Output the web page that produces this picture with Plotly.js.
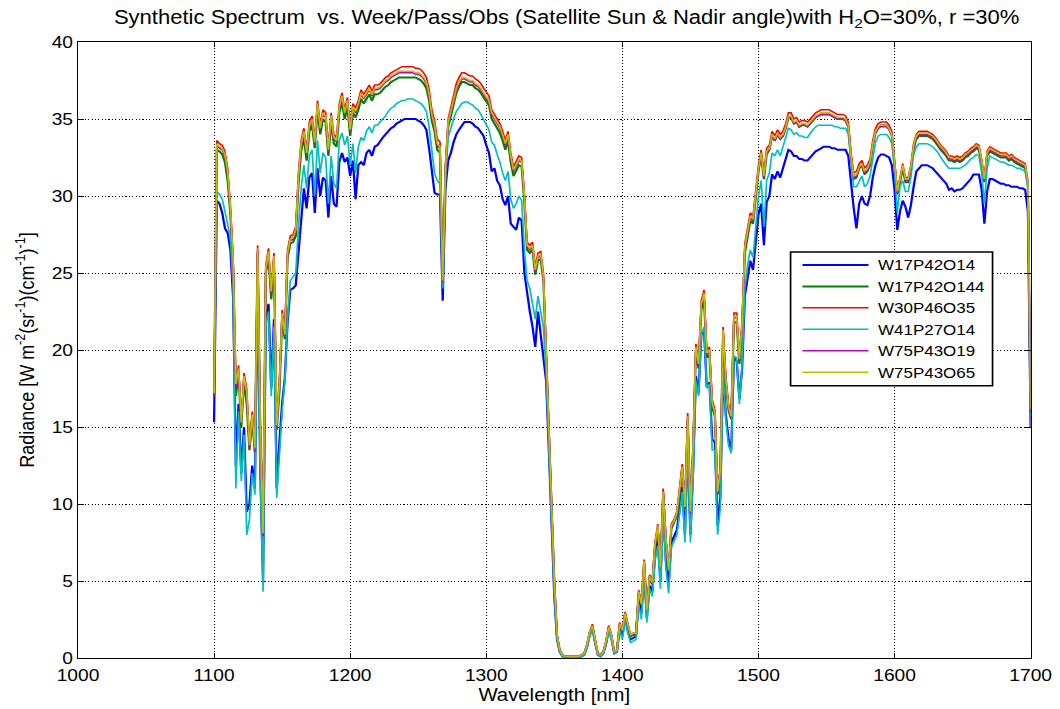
<!DOCTYPE html>
<html>
<head>
<meta charset="utf-8">
<script src="https://cdn.plot.ly/plotly-3.0.1.min.js"></script>
<style>
  html, body { margin: 0; padding: 0; background: #fff; overflow: hidden; }
  /* the figure is laid out at 4:3-style proportions and widened to the 1060 px frame */
  #chart { width: 938px; height: 709px; transform: scaleX(1.1301); transform-origin: 0 0; }
</style>
</head>
<body>
<div id="chart"></div>
<script>
// Wavelength grid of the synthetic spectra: 1100 to 1700 nm, 2 nm spacing
const wlStart = 1100, wlStep = 2, wlEnd = 1700;
const wavelength = [];
for (let w = wlStart; w <= wlEnd; w += wlStep) wavelength.push(w);

// Radiance [W m^-2 sr^-1 (cm^-1)^-1] per observation, one row per 20 nm
const W17P42O14 = [
  15.3, 29.7, 29.5, 28.9, 27.9, 27.6, 26.5, 23.4, 12.5, 16.5,
  12.0, 15.0, 9.5, 10.0, 12.5, 11.0, 24.5, 12.0, 5.0, 22.0,
  23.0, 17.5, 22.0, 11.0, 14.0, 16.5, 18.2, 21.8, 23.9, 24.0,
  24.2, 26.5, 28.8, 30.5, 29.2, 31.2, 31.5, 28.9, 31.8, 30.0,
  31.2, 31.0, 28.6, 31.3, 29.5, 29.3, 32.2, 32.8, 32.2, 32.5,
  31.3, 32.3, 29.8, 32.0, 32.2, 32.0, 32.8, 33.0, 32.6, 33.2,
  33.3, 33.6, 33.8, 34.0, 34.2, 34.4, 34.5, 34.7, 34.8, 34.9,
  35.0, 35.0, 35.0, 35.0, 35.0, 34.9, 34.8, 34.6, 34.3, 33.1,
  31.6, 30.2, 30.1, 30.1, 23.2, 30.5, 32.3, 32.8, 33.5, 34.0,
  34.3, 34.6, 34.8, 34.8, 34.8, 34.7, 34.5, 34.4, 34.1, 33.9,
  33.3, 32.8, 31.6, 31.8, 31.0, 30.7, 29.8, 29.4, 30.0, 28.2,
  28.0, 27.8, 28.6, 28.4, 25.0, 23.7, 22.5, 21.5, 20.2, 22.5,
  21.0, 19.6, 18.0, 13.5, 8.3, 4.0, 1.2, 0.4, 0.1, 0.05,
  0.05, 0.05, 0.05, 0.05, 0.05, 0.1, 0.2, 0.7, 1.5, 1.9,
  0.9, 0.2, 0.1, 0.3, 0.9, 1.8, 1.3, 0.3, 0.4, 1.9,
  1.4, 2.6, 1.8, 1.2, 1.3, 1.4, 3.8, 2.9, 5.6, 2.6,
  4.7, 4.3, 6.6, 7.6, 5.0, 9.6, 6.3, 4.8, 7.5, 7.9,
  8.3, 9.6, 11.1, 8.0, 13.9, 8.0, 12.2, 18.3, 17.2, 21.0,
  21.3, 17.6, 17.9, 14.2, 14.0, 8.6, 10.5, 18.6, 15.8, 14.2,
  13.5, 19.5, 19.3, 16.8, 18.8, 23.5, 24.8, 25.8, 25.2, 27.0,
  28.8, 29.5, 26.8, 29.6, 30.0, 31.4, 31.1, 31.6, 31.2, 31.8,
  32.4, 33.0, 32.9, 32.6, 32.6, 32.4, 32.4, 32.3, 32.3, 32.5,
  32.7, 32.9, 33.0, 33.1, 33.2, 33.2, 33.2, 33.1, 33.1, 33.0,
  33.0, 33.0, 33.0, 32.6, 30.8, 29.2, 27.9, 29.5, 30.0, 29.5,
  29.4, 30.0, 31.2, 32.0, 32.5, 32.7, 32.7, 32.6, 32.5, 32.0,
  30.4, 27.8, 29.0, 29.7, 29.3, 28.6, 29.4, 30.6, 31.6, 31.8,
  32.0, 32.0, 32.0, 31.9, 31.8, 31.6, 31.4, 31.2, 31.0, 30.8,
  30.4, 30.5, 30.3, 30.4, 30.4, 30.5, 30.7, 30.9, 31.1, 31.4,
  31.4, 31.4, 30.4, 28.2, 30.3, 31.1, 31.1, 31.0, 30.9, 30.8,
  30.8, 30.7, 30.7, 30.6, 30.6, 30.6, 30.5, 30.5, 30.4, 29.0,
  15.0
];

const W17P42O144 = [
  17.0, 33.0, 32.9, 32.7, 32.2, 31.0, 28.8, 25.3, 17.0, 18.5,
  15.0, 18.0, 16.5, 13.5, 15.5, 13.3, 26.3, 14.5, 7.8, 25.0,
  26.0, 23.3, 25.7, 14.8, 17.3, 22.0, 20.7, 26.0, 26.9, 27.0,
  27.4, 30.8, 32.9, 33.8, 32.3, 34.2, 34.6, 33.1, 35.6, 34.0,
  35.0, 34.8, 32.6, 34.8, 33.4, 33.2, 35.4, 36.1, 35.0, 35.8,
  33.9, 35.4, 35.1, 35.6, 36.3, 36.0, 36.3, 36.6, 36.2, 36.6,
  36.6, 36.7, 36.9, 37.1, 37.2, 37.4, 37.5, 37.6, 37.7, 37.7,
  37.7, 37.7, 37.7, 37.7, 37.7, 37.6, 37.5, 37.3, 37.0, 36.2,
  34.9, 34.2, 33.0, 32.8, 24.4, 31.6, 34.5, 35.2, 35.9, 36.7,
  37.1, 37.4, 37.4, 37.3, 37.2, 37.2, 37.0, 36.9, 36.7, 36.4,
  36.1, 35.9, 35.0, 34.7, 34.4, 34.1, 33.6, 33.0, 33.6, 32.2,
  31.3, 31.7, 32.0, 31.9, 29.6, 26.5, 26.3, 26.5, 24.9, 25.8,
  25.9, 24.5, 19.6, 15.1, 9.3, 4.9, 1.4, 0.5, 0.2, 0.1,
  0.1, 0.1, 0.1, 0.1, 0.1, 0.2, 0.3, 0.8, 1.6, 2.1,
  1.0, 0.3, 0.2, 0.4, 1.0, 2.0, 1.4, 0.4, 0.5, 2.2,
  1.7, 2.9, 2.1, 1.4, 1.5, 1.5, 4.2, 3.4, 6.2, 3.0,
  5.2, 4.8, 7.3, 8.4, 5.8, 10.7, 7.5, 5.6, 8.4, 8.8,
  9.2, 10.6, 12.3, 9.6, 15.5, 9.3, 13.5, 19.9, 18.8, 22.6,
  23.3, 19.5, 19.7, 16.3, 15.7, 10.6, 12.1, 21.0, 17.8, 16.1,
  15.5, 21.8, 21.8, 19.1, 21.4, 26.3, 27.5, 28.4, 28.2, 29.8,
  31.6, 32.7, 31.1, 32.7, 33.0, 33.9, 33.6, 34.0, 33.7, 33.9,
  34.4, 35.1, 35.1, 34.7, 34.8, 34.5, 34.6, 34.6, 34.5, 34.7,
  34.9, 35.1, 35.2, 35.3, 35.3, 35.3, 35.3, 35.2, 35.1, 35.0,
  35.0, 35.0, 34.9, 34.5, 32.5, 31.1, 31.2, 31.8, 32.0, 31.4,
  31.6, 32.0, 33.3, 34.1, 34.4, 34.6, 34.6, 34.6, 34.4, 34.0,
  32.0, 30.1, 30.9, 31.8, 30.9, 30.9, 31.7, 33.1, 33.7, 33.9,
  33.9, 33.9, 33.9, 33.8, 33.7, 33.5, 33.2, 33.0, 32.8, 32.6,
  32.3, 32.3, 32.2, 32.3, 32.2, 32.3, 32.5, 32.6, 32.8, 32.9,
  33.1, 33.0, 32.1, 30.9, 32.6, 32.9, 32.8, 32.7, 32.6, 32.5,
  32.5, 32.5, 32.3, 32.4, 32.2, 32.1, 32.0, 31.9, 31.8, 30.7,
  15.9
];

const W30P46O35 = [
  17.0, 33.6, 33.4, 33.3, 32.9, 31.8, 29.4, 26.0, 18.0, 19.0,
  15.5, 18.5, 17.5, 14.0, 16.0, 13.8, 26.8, 15.0, 8.3, 25.5,
  26.6, 24.0, 26.3, 15.3, 18.0, 22.6, 21.2, 26.5, 27.4, 27.5,
  28.0, 31.5, 33.6, 34.4, 33.0, 34.8, 35.2, 33.7, 36.2, 34.6,
  35.6, 35.4, 33.2, 35.4, 34.0, 33.8, 36.0, 36.7, 35.6, 36.4,
  34.5, 36.0, 35.7, 36.2, 36.9, 36.6, 36.9, 37.2, 36.8, 37.2,
  37.2, 37.3, 37.5, 37.7, 37.8, 38.0, 38.1, 38.2, 38.3, 38.4,
  38.4, 38.4, 38.4, 38.4, 38.3, 38.3, 38.2, 38.0, 37.7, 36.9,
  35.6, 34.9, 33.7, 33.5, 24.5, 32.0, 35.0, 35.7, 36.5, 37.3,
  37.7, 38.0, 38.0, 37.9, 37.8, 37.8, 37.6, 37.5, 37.3, 37.0,
  36.7, 36.5, 35.6, 35.3, 35.0, 34.7, 34.2, 33.6, 34.2, 32.8,
  31.9, 32.3, 32.6, 32.5, 30.2, 27.0, 26.8, 27.0, 25.4, 26.3,
  26.4, 25.0, 20.0, 15.4, 9.5, 5.0, 1.5, 0.5, 0.2, 0.1,
  0.1, 0.1, 0.1, 0.1, 0.1, 0.2, 0.3, 0.9, 1.7, 2.2,
  1.1, 0.3, 0.2, 0.4, 1.1, 2.1, 1.5, 0.4, 0.5, 2.3,
  1.8, 3.0, 2.2, 1.5, 1.6, 1.6, 4.4, 3.6, 6.4, 3.2,
  5.4, 5.0, 7.5, 8.7, 6.0, 11.0, 7.8, 5.8, 8.7, 9.0,
  9.5, 10.9, 12.6, 9.9, 15.9, 9.6, 13.9, 20.4, 19.3, 23.2,
  23.9, 20.0, 20.2, 16.8, 16.1, 10.9, 12.4, 21.5, 18.3, 16.5,
  15.9, 22.4, 22.4, 19.6, 21.9, 26.9, 28.0, 28.9, 28.7, 30.2,
  32.0, 33.0, 31.5, 33.1, 33.3, 34.2, 33.9, 34.3, 34.0, 34.2,
  34.7, 35.4, 35.4, 35.0, 35.1, 34.8, 34.9, 34.9, 34.8, 35.0,
  35.2, 35.4, 35.5, 35.6, 35.6, 35.6, 35.6, 35.5, 35.4, 35.3,
  35.3, 35.3, 35.2, 34.8, 32.8, 31.5, 31.6, 32.1, 32.3, 31.8,
  32.0, 32.4, 33.6, 34.4, 34.7, 34.8, 34.8, 34.8, 34.6, 34.2,
  32.3, 30.4, 31.2, 32.1, 31.2, 31.2, 32.0, 33.4, 34.0, 34.2,
  34.2, 34.2, 34.2, 34.1, 34.0, 33.8, 33.5, 33.3, 33.1, 32.9,
  32.6, 32.6, 32.5, 32.6, 32.5, 32.6, 32.8, 32.9, 33.1, 33.2,
  33.4, 33.3, 32.4, 31.2, 32.9, 33.2, 33.1, 33.0, 32.9, 32.8,
  32.8, 32.8, 32.6, 32.7, 32.5, 32.4, 32.3, 32.2, 32.1, 31.0,
  16.0
];

const W41P27O14 = [
  17.8, 30.3, 30.1, 29.8, 29.0, 28.0, 27.3, 24.0, 11.0, 16.0,
  11.5, 14.5, 8.0, 9.0, 12.0, 10.6, 24.0, 11.5, 4.3, 21.5,
  22.5, 17.0, 21.5, 10.4, 13.5, 16.0, 18.0, 22.0, 24.5, 24.8,
  25.0, 28.0, 30.5, 32.0, 30.5, 32.6, 33.0, 30.0, 33.6, 31.5,
  32.8, 32.5, 29.5, 32.6, 30.8, 30.5, 33.6, 34.1, 33.3, 33.9,
  32.0, 33.4, 31.5, 33.2, 33.8, 33.6, 34.2, 34.5, 34.1, 34.6,
  34.6, 34.8, 35.0, 35.2, 35.5, 35.7, 35.8, 36.0, 36.1, 36.2,
  36.2, 36.3, 36.3, 36.3, 36.2, 36.1, 36.0, 35.8, 35.5, 34.5,
  33.0, 31.5, 31.0, 30.8, 24.0, 31.0, 33.8, 34.5, 35.0, 35.5,
  35.8, 36.0, 36.1, 36.1, 36.0, 35.9, 35.7, 35.6, 35.3, 35.0,
  34.7, 34.3, 33.5, 33.3, 32.7, 32.2, 31.5, 31.0, 31.6, 29.8,
  29.2, 29.5, 30.0, 29.7, 26.5, 24.5, 24.0, 23.0, 22.0, 23.5,
  22.5, 21.5, 18.5, 14.0, 8.5, 4.2, 1.2, 0.4, 0.1, 0.05,
  0.05, 0.05, 0.05, 0.05, 0.05, 0.1, 0.2, 0.7, 1.4, 1.8,
  0.9, 0.2, 0.1, 0.3, 0.9, 1.7, 1.2, 0.3, 0.4, 1.8,
  1.2, 2.5, 1.6, 1.0, 1.1, 1.2, 3.5, 2.5, 5.4, 2.3,
  4.5, 4.0, 6.3, 7.3, 4.5, 9.3, 5.8, 4.2, 7.2, 7.6,
  8.0, 9.3, 10.8, 7.5, 13.6, 7.5, 11.8, 18.0, 17.0, 21.0,
  21.5, 17.5, 17.8, 13.5, 13.5, 8.0, 9.8, 18.8, 15.5, 13.8,
  13.3, 19.6, 19.5, 16.5, 19.0, 24.0, 25.5, 26.5, 26.0, 28.0,
  30.0, 31.0, 28.0, 31.0, 31.5, 32.8, 32.6, 33.0, 32.6, 33.2,
  33.8, 34.4, 34.3, 34.0, 34.1, 33.9, 33.9, 33.8, 33.8, 34.1,
  34.3, 34.5, 34.6, 34.6, 34.6, 34.6, 34.6, 34.6, 34.5, 34.5,
  34.4, 34.4, 34.4, 34.0, 32.0, 30.6, 30.6, 31.0, 31.3, 30.6,
  30.8, 31.3, 32.6, 33.5, 33.9, 34.0, 34.0, 34.0, 33.8, 33.4,
  31.8, 28.9, 30.6, 31.0, 30.3, 30.3, 31.2, 32.7, 33.2, 33.4,
  33.4, 33.4, 33.4, 33.3, 33.2, 33.0, 32.8, 32.5, 32.2, 32.0,
  31.8, 31.8, 31.8, 31.8, 31.8, 31.9, 32.0, 32.2, 32.4, 32.5,
  32.7, 32.6, 31.5, 29.5, 31.8, 32.6, 32.5, 32.4, 32.3, 32.2,
  32.2, 32.1, 32.0, 32.0, 31.9, 31.8, 31.8, 31.7, 31.6, 30.5,
  15.8
];

const W75P43O19 = [
  17.1, 33.3, 33.1, 33.0, 32.6, 31.5, 29.0, 25.6, 17.5, 18.7,
  15.2, 18.2, 17.0, 13.6, 15.7, 13.4, 26.5, 14.6, 7.9, 25.2,
  26.3, 23.6, 26.0, 15.0, 17.6, 22.3, 20.9, 26.2, 27.1, 27.2,
  27.7, 31.2, 33.3, 34.1, 32.7, 34.5, 34.9, 33.4, 35.9, 34.3,
  35.3, 35.1, 32.9, 35.1, 33.7, 33.5, 35.7, 36.4, 35.3, 36.1,
  34.2, 35.7, 35.4, 35.9, 36.6, 36.3, 36.6, 36.9, 36.5, 36.9,
  36.9, 37.0, 37.2, 37.4, 37.5, 37.7, 37.8, 37.9, 38.0, 38.0,
  38.0, 38.0, 38.0, 38.0, 37.9, 37.9, 37.8, 37.6, 37.3, 36.5,
  35.2, 34.5, 33.3, 33.1, 24.4, 31.7, 34.7, 35.4, 36.2, 36.9,
  37.3, 37.6, 37.6, 37.5, 37.4, 37.4, 37.2, 37.1, 36.9, 36.6,
  36.3, 36.1, 35.3, 35.0, 34.7, 34.4, 33.9, 33.3, 33.9, 32.5,
  31.6, 32.0, 32.3, 32.2, 29.9, 26.7, 26.5, 26.7, 25.1, 26.0,
  26.1, 24.7, 19.8, 15.2, 9.4, 4.9, 1.5, 0.5, 0.2, 0.1,
  0.1, 0.1, 0.1, 0.1, 0.1, 0.2, 0.3, 0.9, 1.7, 2.1,
  1.1, 0.3, 0.2, 0.4, 1.1, 2.0, 1.5, 0.4, 0.5, 2.2,
  1.7, 2.9, 2.1, 1.5, 1.6, 1.6, 4.3, 3.5, 6.2, 3.1,
  5.3, 4.9, 7.3, 8.5, 5.9, 10.8, 7.6, 5.7, 8.5, 8.9,
  9.3, 10.7, 12.4, 9.7, 15.6, 9.4, 13.6, 20.1, 19.0, 22.9,
  23.6, 19.7, 19.9, 16.5, 15.8, 10.7, 12.2, 21.2, 18.0, 16.2,
  15.6, 22.1, 22.1, 19.3, 21.6, 26.6, 27.7, 28.6, 28.4, 29.9,
  31.7, 32.7, 31.2, 32.8, 33.0, 33.9, 33.6, 34.0, 33.7, 33.9,
  34.4, 35.1, 35.1, 34.7, 34.8, 34.5, 34.6, 34.6, 34.5, 34.7,
  34.9, 35.1, 35.2, 35.3, 35.3, 35.3, 35.3, 35.2, 35.1, 35.0,
  35.0, 35.0, 34.9, 34.5, 32.5, 31.2, 31.3, 31.8, 32.0, 31.5,
  31.7, 32.1, 33.3, 34.1, 34.4, 34.5, 34.5, 34.5, 34.3, 33.9,
  32.1, 30.2, 31.0, 31.9, 31.0, 31.0, 31.8, 33.2, 33.8, 34.0,
  34.0, 34.0, 34.0, 33.9, 33.8, 33.6, 33.3, 33.1, 32.9, 32.7,
  32.4, 32.4, 32.3, 32.4, 32.3, 32.4, 32.6, 32.7, 32.9, 33.0,
  33.2, 33.1, 32.2, 31.0, 32.7, 33.0, 32.9, 32.8, 32.7, 32.6,
  32.6, 32.6, 32.4, 32.5, 32.3, 32.2, 32.1, 32.0, 31.9, 30.8,
  16.0
];

const W75P43O65 = [
  17.2, 33.4, 33.2, 33.1, 32.7, 31.6, 29.2, 25.8, 17.8, 18.8,
  15.3, 18.3, 17.3, 13.8, 15.8, 13.6, 26.6, 14.8, 8.1, 25.3,
  26.4, 23.8, 26.1, 15.1, 17.8, 22.4, 21.0, 26.3, 27.2, 27.3,
  27.8, 31.3, 33.4, 34.2, 32.8, 34.6, 35.0, 33.5, 36.0, 34.4,
  35.4, 35.2, 33.0, 35.2, 33.8, 33.6, 35.8, 36.5, 35.4, 36.2,
  34.3, 35.8, 35.5, 36.0, 36.7, 36.4, 36.7, 37.0, 36.6, 37.0,
  37.0, 37.1, 37.3, 37.5, 37.6, 37.8, 37.9, 38.0, 38.1, 38.1,
  38.1, 38.1, 38.1, 38.1, 38.0, 38.0, 37.9, 37.7, 37.4, 36.6,
  35.3, 34.6, 33.4, 33.2, 24.5, 31.8, 34.8, 35.5, 36.3, 37.0,
  37.4, 37.7, 37.7, 37.6, 37.5, 37.5, 37.3, 37.2, 37.0, 36.7,
  36.4, 36.2, 35.4, 35.1, 34.8, 34.5, 34.0, 33.4, 34.0, 32.6,
  31.7, 32.1, 32.4, 32.3, 30.0, 26.8, 26.6, 26.8, 25.2, 26.1,
  26.2, 24.8, 19.9, 15.3, 9.4, 5.0, 1.5, 0.5, 0.2, 0.1,
  0.1, 0.1, 0.1, 0.1, 0.1, 0.2, 0.3, 0.9, 1.7, 2.1,
  1.1, 0.3, 0.2, 0.4, 1.1, 2.0, 1.5, 0.4, 0.5, 2.2,
  1.8, 2.9, 2.2, 1.5, 1.6, 1.6, 4.3, 3.5, 6.3, 3.1,
  5.3, 4.9, 7.4, 8.6, 5.9, 10.8, 7.7, 5.7, 8.6, 8.9,
  9.4, 10.8, 12.4, 9.8, 15.7, 9.5, 13.7, 20.2, 19.1, 23.0,
  23.7, 19.8, 20.0, 16.6, 15.9, 10.8, 12.2, 21.3, 18.1, 16.3,
  15.7, 22.2, 22.2, 19.4, 21.7, 26.7, 27.8, 28.7, 28.5, 30.0,
  31.8, 32.8, 31.3, 32.9, 33.1, 34.0, 33.7, 34.1, 33.8, 34.0,
  34.5, 35.2, 35.2, 34.8, 34.9, 34.6, 34.7, 34.7, 34.6, 34.8,
  35.0, 35.2, 35.3, 35.4, 35.4, 35.4, 35.4, 35.3, 35.2, 35.1,
  35.1, 35.1, 35.0, 34.6, 32.6, 31.3, 31.4, 31.9, 32.1, 31.6,
  31.8, 32.2, 33.4, 34.2, 34.5, 34.6, 34.6, 34.6, 34.4, 34.0,
  32.2, 30.3, 31.1, 32.0, 31.1, 31.1, 31.9, 33.3, 33.9, 34.1,
  34.1, 34.1, 34.1, 34.0, 33.9, 33.7, 33.4, 33.2, 33.0, 32.8,
  32.5, 32.5, 32.4, 32.5, 32.4, 32.5, 32.7, 32.8, 33.0, 33.1,
  33.3, 33.2, 32.3, 31.1, 32.8, 33.1, 33.0, 32.9, 32.8, 32.7,
  32.7, 32.7, 32.5, 32.6, 32.4, 32.3, 32.2, 32.1, 32.0, 30.9,
  16.1
];

const seriesNames = ['W17P42O14', 'W17P42O144', 'W30P46O35', 'W41P27O14', 'W75P43O19', 'W75P43O65'];
const seriesValues = [W17P42O14, W17P42O144, W30P46O35, W41P27O14, W75P43O19, W75P43O65];
const seriesColors = ['#0000ff', '#008000', '#ff0000', '#00bfbf', '#bf00bf', '#bfbf00'];
const seriesWidths = [2, 2, 1.5, 1.5, 1.5, 1.5];

const traces = seriesNames.map((name, k) => ({
  type: 'scatter',
  mode: 'lines',
  name: name,
  x: wavelength,
  y: seriesValues[k],
  line: { color: seriesColors[k], width: seriesWidths[k] },
  showlegend: false
}));

const fontFamily = '"Liberation Sans", Arial, Helvetica, sans-serif';
const font = (size) => ({ family: fontFamily, size: size, color: '#000' });

// Boxed legend inside the axes, laid out in paper coordinates
const legendBox = { x0: 0.748, x1: 0.96, y0: 0.442, y1: 0.659 };
const legendLine = { x0: 0.7605, x1: 0.8298, labelX: 0.837 };
const legendRowTop = 0.638, legendRowStep = 0.0348;

const shapes = [{
  type: 'rect', xref: 'paper', yref: 'paper',
  x0: legendBox.x0, x1: legendBox.x1, y0: legendBox.y0, y1: legendBox.y1,
  line: { color: '#000', width: 1.5 }, fillcolor: '#fff', layer: 'above'
}];
const annotations = [];
seriesNames.forEach((name, k) => {
  const yRow = legendRowTop - k * legendRowStep;
  shapes.push({
    type: 'line', xref: 'paper', yref: 'paper',
    x0: legendLine.x0, x1: legendLine.x1, y0: yRow, y1: yRow,
    line: { color: seriesColors[k], width: seriesWidths[k] }, layer: 'above'
  });
  annotations.push({
    xref: 'paper', yref: 'paper', x: legendLine.labelX, y: yRow,
    xanchor: 'left', yanchor: 'middle', showarrow: false,
    text: name, font: font(15)
  });
});

const axisCommon = {
  showline: true,
  linecolor: '#000',
  linewidth: 1,
  mirror: 'allticks',
  ticks: 'inside',
  ticklen: 5,
  tickcolor: '#000',
  showgrid: true,
  gridcolor: '#000',
  gridwidth: 1,
  griddash: '1px,2px',
  zeroline: false,
  tickfont: font(17)
};

const layout = {
  width: 938,
  height: 709,
  margin: { l: 69, r: 26, t: 42, b: 51 },
  paper_bgcolor: '#fff',
  plot_bgcolor: '#fff',
  font: font(17),
  title: {
    text: 'Synthetic Spectrum  vs. Week/Pass/Obs (Satellite Sun & Nadir angle)with H<sub>2</sub>O=30%, r =30%',
    font: font(19.5),
    x: 0.513, xref: 'paper', xanchor: 'center',
    y: 0.976, yref: 'container', yanchor: 'middle'
  },
  xaxis: Object.assign({}, axisCommon, {
    range: [1000, 1700],
    dtick: 100,
    tick0: 1000,
    ticklabelstandoff: 2,
    title: { text: 'Wavelength [nm]', font: font(18), standoff: 2 }
  }),
  yaxis: Object.assign({}, axisCommon, {
    range: [0, 40],
    dtick: 5,
    tick0: 0,
    title: {
      text: 'Radiance [W m<sup>-2</sup>(sr<sup>-1</sup>)(cm<sup>-1</sup>)<sup>-1</sup>]',
      font: font(18),
      standoff: 10
    }
  }),
  showlegend: false,
  shapes: shapes,
  annotations: annotations,
  hovermode: false
};

Plotly.newPlot('chart', traces, layout, { staticPlot: true, displayModeBar: false });
</script>
</body>
</html>
